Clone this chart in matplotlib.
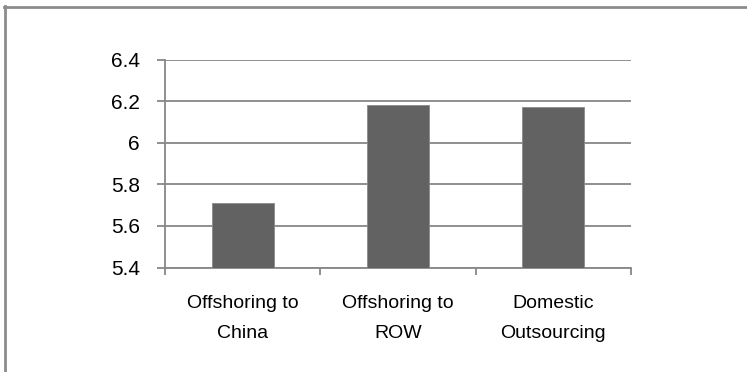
import numpy as np
import matplotlib
matplotlib.use("Agg")
import matplotlib.pyplot as plt
from matplotlib.lines import Line2D

categories = ["Offshoring to\nChina", "Offshoring to\nROW", "Domestic\nOutsourcing"]
values = [5.71, 6.183, 6.173]
yticks = [5.4, 5.6, 5.8, 6.0, 6.2, 6.4]
ytick_labels = ["5.4", "5.6", "5.8", "6", "6.2", "6.4"]

plt.rcParams['font.family'] = ['Liberation Sans', 'DejaVu Sans']

fig = plt.figure(figsize=(7.47, 3.72), dpi=100)
ax = fig.add_axes([165 / 747, 1 - 267.5 / 372, 466 / 747, 208 / 372])

x = np.arange(len(categories))
ax.bar(x, [v - 5.4 for v in values], bottom=5.4, width=0.4, color='#626262',
       edgecolor='#8a8a8a', linewidth=0.6, zorder=3)

ax.set_xlim(-0.5, 2.5)
ax.set_ylim(5.4, 6.4)
ax.set_yticks(yticks)
ax.set_yticklabels(ytick_labels, fontsize=15)
ax.set_xticks([-0.5, 0.5, 1.5, 2.5])
ax.set_xticklabels([])
ax.set_xticks(x, minor=True)
ax.set_xticklabels(categories, minor=True, fontsize=14, linespacing=1.97)

ax.grid(axis='y', color='#878787', linewidth=1.3, zorder=0)
for s in ['top', 'right']:
    ax.spines[s].set_visible(False)
for s in ['left', 'bottom']:
    ax.spines[s].set_color('#878787')
    ax.spines[s].set_linewidth(1.3)
ax.tick_params(axis='y', length=6, width=1.3, color='#878787', pad=12)
ax.tick_params(axis='x', which='major', length=5, width=1.3, color='#878787')
ax.tick_params(axis='x', which='minor', length=0, pad=20)

# outer frame (top and left edge only)
fig.add_artist(Line2D([5 / 747, 5 / 747], [0, 1 - 6 / 372], transform=fig.transFigure,
                      color='#8c8c8c', linewidth=2))
fig.add_artist(Line2D([4 / 747, 1], [1 - 6.5 / 372, 1 - 6.5 / 372], transform=fig.transFigure,
                      color='#8c8c8c', linewidth=2))

fig.savefig("out.png", dpi=100, facecolor='white')
